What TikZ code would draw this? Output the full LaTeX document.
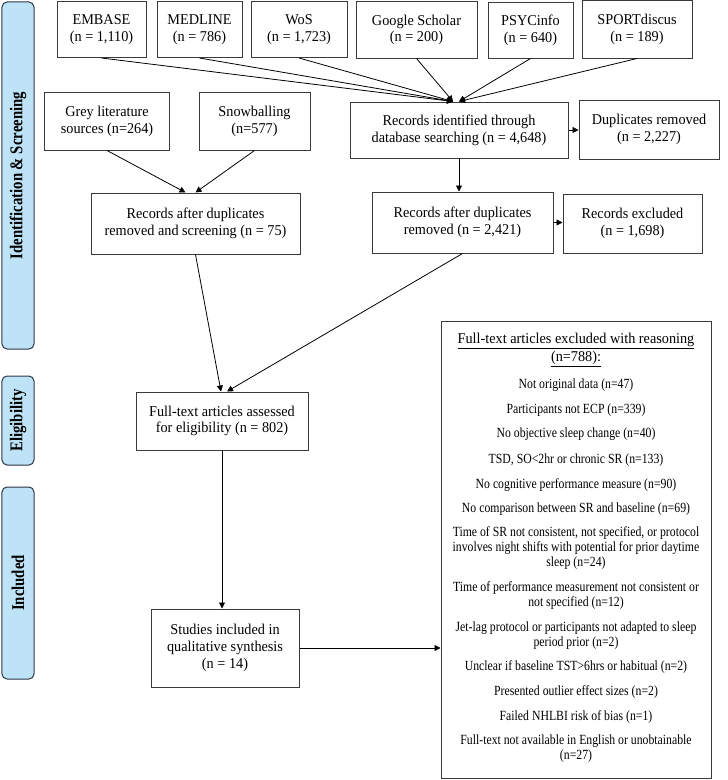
\documentclass[tikz,border=0pt]{standalone}
\usepackage{fontspec}
\setmainfont{Liberation Serif}
\newfontfamily\mainf{Liberation Serif}[FakeStretch=0.95]
\newfontfamily\itemf{Liberation Serif}[FakeStretch=0.84]
\newfontfamily\barf{Liberation Serif}[FakeStretch=0.82]
\usetikzlibrary{arrows.meta}
\definecolor{barfill}{HTML}{BEE3F7}
\definecolor{barline}{HTML}{2B3645}
\definecolor{boxline}{HTML}{3A3A3A}
\begin{document}
\begin{tikzpicture}[x=1bp,y=-1bp,
  box/.style={draw=boxline, line width=1bp, inner sep=0pt, align=center, font=\mainf\fontsize{15bp}{16.7bp}\selectfont},
  bar/.style={draw=barline, fill=barfill, line width=1bp, rounded corners=5bp, rotate=90, minimum height=32bp, inner sep=0pt, font=\barf\bfseries\fontsize{18bp}{19bp}\selectfont},
  exitem/.style={align=center, inner sep=0pt, font=\itemf\fontsize{14bp}{15bp}\selectfont},
  exhead/.style={align=center, inner sep=0pt, font=\mainf\fontsize{15bp}{18bp}\selectfont},
  arr/.style={-{Triangle[length=6bp,width=6bp]}, line width=0.8bp, black},
]
\useasboundingbox (0,0) rectangle (728,780);

% side bars
\node[bar, minimum width=347bp] (barid) at (18,175.5) {Identification \& Screening};
\node[bar, minimum width=89bp] (barel) at (18,420.5) {Eligibility};
\node[bar, minimum width=192bp] (barin) at (18,583) {Included};

% database boxes
\node[box, minimum width=89bp, minimum height=56bp] (embase) at (101.5,29.5) {EMBASE\\(n = 1,110)};
\node[box, minimum width=85bp, minimum height=56bp] (medline) at (199.5,29.5) {MEDLINE\\(n = 786)};
\node[box, minimum width=96bp, minimum height=56bp] (wos) at (299,29.5) {WoS\\(n = 1,723)};
\node[box, minimum width=121bp, minimum height=56bp] (gs) at (416.5,30) {Google Scholar\\(n = 200)};
\node[box, minimum width=85bp, minimum height=55bp] (psyc) at (530.5,30.5) {PSYCinfo\\(n = 640)};
\node[box, minimum width=110bp, minimum height=57bp] (sport) at (637,29.5) {SPORTdiscus\\(n = 189)};

\node[box, minimum width=124bp, minimum height=57bp] (grey) at (107,121.5) {Grey literature\\sources (n=264)};
\node[box, minimum width=111bp, minimum height=57bp] (snow) at (254.5,121.5) {Snowballing\\(n=577)};
\node[box, minimum width=218bp, minimum height=56bp] (recid) at (459,130) {Records identified through\\database searching (n = 4,648)};
\node[box, minimum width=140bp, minimum height=59bp] (duprem) at (649,129.5) {Duplicates removed\\(n = 2,227)};

\node[box, minimum width=209bp, minimum height=61bp] (scr) at (195.5,223.5) {Records after duplicates\\removed and screening (n = 75)};
\node[box, minimum width=181bp, minimum height=61bp] (dup) at (462.5,222.5) {Records after duplicates\\removed (n = 2,421)};
\node[box, minimum width=139bp, minimum height=59bp] (recex) at (632.5,223.5) {Records excluded\\(n = 1,698)};

\node[box, minimum width=172bp, minimum height=58bp] (ft) at (222,421) {Full-text articles assessed\\for eligibility (n = 802)};
\node[box, minimum width=148bp, minimum height=78bp] (st) at (225,648) {Studies included in\\qualitative synthesis\\(n = 14)};

% excluded box
\node[box, minimum width=270bp, minimum height=457bp] (excl) at (576,549.5) {};
\node[exhead] (exh) at (576,350) {\underline{Full-text articles excluded with reasoning}\\\underline{(n=788):}};
\node[exitem] (e1) at (576,385) {Not original data (n=47)};
\node[exitem] (e2) at (576,410) {Participants not ECP (n=339)};
\node[exitem] (e3) at (576,434) {No objective sleep change (n=40)};
\node[exitem] (e4) at (576,460) {TSD, SO<2hr or chronic SR (n=133)};
\node[exitem] (e5) at (576,485) {No cognitive performance measure (n=90)};
\node[exitem] (e6) at (576,509) {No comparison between SR and baseline (n=69)};
\node[exitem] (e7) at (576,548) {Time of SR not consistent, not specified, or protocol\\involves night shifts with potential for prior daytime\\sleep (n=24)};
\node[exitem] (e8) at (576,595.5) {Time of performance measurement not consistent or\\not specified (n=12)};
\node[exitem] (e9) at (576,635.5) {Jet-lag protocol or participants not adapted to sleep\\period prior (n=2)};
\node[exitem] (e10) at (576,667) {Unclear if baseline TST>6hrs or habitual (n=2)};
\node[exitem] (e11) at (576,692) {Presented outlier effect sizes (n=2)};
\node[exitem] (e12) at (576,717) {Failed NHLBI risk of bias (n=1)};
\node[exitem] (e13) at (576,749) {Full-text not available in English or unobtainable\\(n=27)};

% connectors
\draw[arr] (embase.south) -- ([xshift=-6bp]recid.north);
\draw[arr] (medline.south) -- ([xshift=-6bp]recid.north);
\draw[arr] (wos.south) -- ([xshift=-6bp]recid.north);
\draw[arr] (gs.south) -- ([xshift=-6bp]recid.north);
\draw[arr] (psyc.south) -- ([xshift=0bp]recid.north);
\draw[arr] (sport.south) -- ([xshift=0bp]recid.north);
\draw[arr] (recid.east) -- (recid.east -| duprem.west);
\draw[arr] (recid.south) -- (recid.south |- dup.north);
\draw[arr] (dup.east) -- (dup.east -| recex.west);
\draw[arr] (grey.south) -- ([xshift=-10bp]scr.north);
\draw[arr] (snow.south) -- (scr.north);
\draw[arr] (scr.south) -- ([xshift=-1bp]ft.north);
\draw[arr] (dup.south) -- ([xshift=5bp]ft.north);
\draw[arr] (ft.south) -- (ft.south |- st.north);
\draw[arr] (st.east) -- (st.east -| excl.west);
\end{tikzpicture}
\end{document}
